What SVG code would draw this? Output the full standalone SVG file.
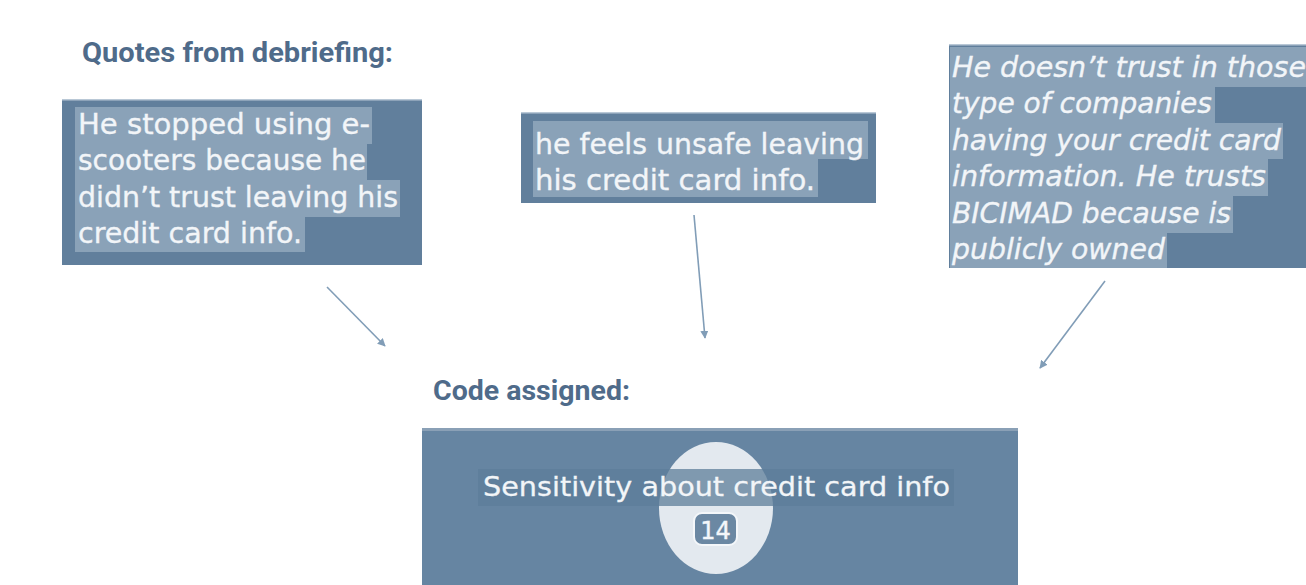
<svg xmlns="http://www.w3.org/2000/svg" width="1306" height="585" viewBox="0 0 1306 585">
  <defs>
    <style>
      .box { fill: #617f9c; }
      .edge { fill: #b9c8d6; }
      .hl { fill: #8aa2b8; }
      .quote { font-family: "DejaVu Sans", "Liberation Sans", sans-serif; font-size: 28.5px; fill: #f2f5f8; stroke: #f2f5f8; stroke-width: 0.35; }
      .italic { font-style: italic; }
      .title { font-family: Roboto, "Liberation Sans", sans-serif; font-weight: 700; font-size: 28px; fill: #4f6b8a; }
      .link { fill: none; stroke: #819db7; stroke-width: 1.6; marker-end: url(#head); }
      .code { font-family: "DejaVu Sans", "Liberation Sans", sans-serif; font-size: 27px; fill: #f2f5f8; stroke: #f2f5f8; stroke-width: 0.3; }
    </style>
    <marker id="head" viewBox="0 0 10 10" refX="9" refY="5" markerWidth="8" markerHeight="8" orient="auto" markerUnits="userSpaceOnUse">
      <path d="M0,0 L10,5 L0,10 z" fill="#819db7"/>
    </marker>
  </defs>

  <rect width="1306" height="585" fill="#ffffff"/>

  <!-- section headings -->
  <g id="heading-quotes">
    <text class="title" x="82" y="62" textLength="311" lengthAdjust="spacingAndGlyphs">Quotes from debriefing:</text>
  </g>
  <g id="heading-code">
    <text class="title" x="433" y="400" textLength="197" lengthAdjust="spacingAndGlyphs">Code assigned:</text>
  </g>

  <!-- quote 1 -->
  <g id="quote-1">
    <rect class="box" x="62" y="100" width="360" height="165"/>
    <rect class="edge" x="62" y="99" width="360" height="1.5"/>
    <path class="hl" d="M75,107 H372 V144 H367 V180 H400 V217 H305 V252 H75 Z"/>
    <text class="quote" x="78" y="134" textLength="292" lengthAdjust="spacingAndGlyphs">He stopped using e-</text>
    <text class="quote" x="78" y="170" textLength="288" lengthAdjust="spacingAndGlyphs">scooters because he</text>
    <text class="quote" x="78" y="207" textLength="320" lengthAdjust="spacingAndGlyphs">didn’t trust leaving his</text>
    <text class="quote" x="78" y="243" textLength="224" lengthAdjust="spacingAndGlyphs">credit card info.</text>
  </g>

  <!-- quote 2 -->
  <g id="quote-2">
    <rect class="box" x="521" y="113" width="355" height="90"/>
    <rect class="edge" x="521" y="112" width="355" height="1.5"/>
    <path class="hl" d="M533,121 H868 V159 H818 V197 H533 Z"/>
    <text class="quote" x="535" y="154" textLength="329" lengthAdjust="spacingAndGlyphs">he feels unsafe leaving</text>
    <text class="quote" x="535" y="190" textLength="280" lengthAdjust="spacingAndGlyphs">his credit card info.</text>
  </g>

  <!-- quote 3 -->
  <g id="quote-3">
    <rect class="box" x="949" y="45" width="357" height="223"/>
    <rect class="edge" x="949" y="44" width="357" height="1.5"/>
    <path class="hl" d="M950,47 H1306 V87 H1215 V123 H1283 V159 H1268 V196 H1233 V233 H1167 V268 H950 Z"/>
    <text class="quote italic" x="952" y="77" textLength="354" lengthAdjust="spacingAndGlyphs">He doesn’t trust in those</text>
    <text class="quote italic" x="952" y="113" textLength="260" lengthAdjust="spacingAndGlyphs">type of companies</text>
    <text class="quote italic" x="952" y="150" textLength="329" lengthAdjust="spacingAndGlyphs">having your credit card</text>
    <text class="quote italic" x="952" y="186" textLength="314" lengthAdjust="spacingAndGlyphs">information. He trusts</text>
    <text class="quote italic" x="952" y="223" textLength="279" lengthAdjust="spacingAndGlyphs">BICIMAD because is</text>
    <text class="quote italic" x="952" y="259" textLength="213" lengthAdjust="spacingAndGlyphs">publicly owned</text>
  </g>

  <!-- assigned code -->
  <g id="code-box">
    <rect x="422" y="428" width="596" height="157" fill="#6685a2"/>
    <rect x="422" y="428" width="596" height="3" fill="#8aa0b6"/>
    <ellipse cx="716" cy="508" rx="57" ry="66" fill="#e3e9ef"/>
    <rect x="478" y="469" width="476" height="37" fill="#5e7d9a" opacity="0.75"/>
    <text class="code" x="483" y="496" textLength="467" lengthAdjust="spacingAndGlyphs">Sensitivity about credit card info</text>
    <rect x="694" y="513" width="43" height="32" rx="8" fill="#6b88a3" stroke="#f4f7fa" stroke-width="2"/>
    <text x="715.5" y="539" text-anchor="middle" font-family="'DejaVu Sans', 'Liberation Sans', sans-serif" font-size="24" fill="#f4f7fa" stroke="#f4f7fa" stroke-width="0.4">14</text>
  </g>

  <!-- connectors -->
  <g id="connectors">
    <line class="link" x1="327" y1="287" x2="385" y2="346"/>
    <line class="link" x1="694" y1="215" x2="705" y2="338"/>
    <line class="link" x1="1105" y1="281" x2="1040" y2="368"/>
  </g>
</svg>
